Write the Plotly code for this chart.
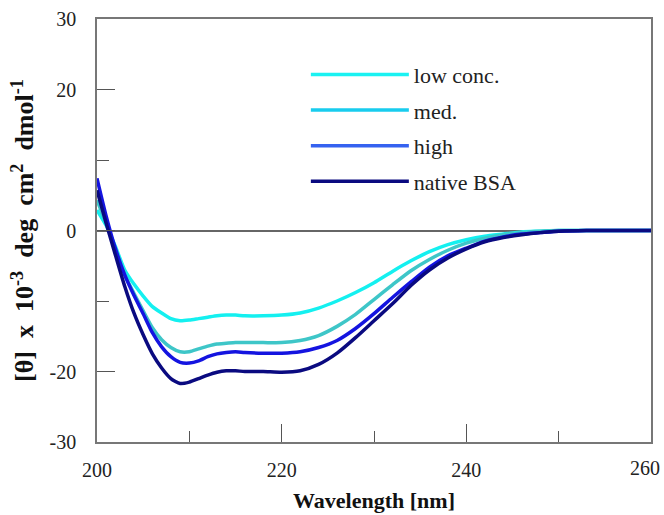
import plotly.graph_objects as go

wavelength = [200, 201, 202, 203, 204, 205, 206, 207, 208, 209, 210, 211, 212, 213, 214, 215, 216,
              218, 220, 222, 224, 226, 228, 230, 232, 234, 236, 238, 240, 242, 244, 246, 248, 250,
              253, 256, 260]

low_conc = [2.9, 0.7, -2.3, -5.6, -7.6, -9.3, -10.8, -11.7, -12.5, -12.8, -12.7, -12.5, -12.3, -12.1,
            -12.0, -12.0, -12.1, -12.1, -12.0, -11.7, -11.0, -10.0, -8.8, -7.4, -5.8, -4.3, -3.0, -2.0,
            -1.3, -0.8, -0.5, -0.2, -0.1, 0.0, 0.0, 0.0, 0.0]

med = [4.3, 1.0, -2.6, -6.3, -8.9, -11.4, -13.8, -15.5, -16.6, -17.2, -17.2, -16.8, -16.4, -16.1,
       -16.0, -15.9, -15.9, -15.9, -15.9, -15.6, -14.9, -13.6, -11.9, -9.8, -7.7, -5.7, -4.1, -2.8,
       -1.8, -1.1, -0.6, -0.3, -0.1, 0.0, 0.0, 0.0, 0.0]

high = [7.4, 2.0, -2.6, -6.3, -9.2, -11.8, -14.5, -16.5, -17.9, -18.7, -18.8, -18.5, -17.9, -17.5,
        -17.3, -17.2, -17.3, -17.4, -17.4, -17.2, -16.6, -15.6, -13.9, -11.8, -9.5, -7.3, -5.2, -3.6,
        -2.5, -1.5, -0.9, -0.5, -0.3, -0.1, 0.0, 0.0, 0.0]

native_bsa = [5.7, 1.0, -3.5, -7.9, -11.7, -14.8, -17.5, -19.5, -21.0, -21.7, -21.5, -21.0, -20.5,
              -20.1, -19.9, -19.9, -20.0, -20.0, -20.1, -19.9, -19.0, -17.4, -15.2, -12.8, -10.4, -7.8,
              -5.6, -3.9, -2.6, -1.6, -1.0, -0.6, -0.3, -0.1, 0.0, 0.0, 0.0]

series_names = ["low conc.", "med.", "high", "native BSA"]
series_values = [low_conc, med, high, native_bsa]
curve_colors = ["#14F0F0", "#3EC6C8", "#1414E0", "#0A0A80"]
legend_colors = ["#1AF2F2", "#18CCEE", "#3562F0", "#0A0A80"]

x_tickvals = [200, 220, 240, 260]
x_ticklabels = ["200", "220", "240", "260"]
x_minor = [210, 230, 250]
y_tickvals = [-30, -20, 0, 20, 30]
y_minor = [-10, 10]

font_family = "Liberation Serif"
sp = "&nbsp;&nbsp;"

fig = go.Figure()
for name, vals, c in zip(series_names, series_values, curve_colors):
    fig.add_trace(go.Scatter(x=wavelength, y=vals, mode="lines", name=name,
                             line=dict(color=c, width=3.5, shape="spline", smoothing=0.6),
                             showlegend=False))
for i, (name, c) in enumerate(zip(series_names, legend_colors)):
    fig.add_trace(go.Scatter(x=[None], y=[None], mode="lines", name=name,
                             line=dict(color=c, width=3.5), legendgroup=f"g{i}",
                             showlegend=True))

# last tick label is kept inside the page (right-aligned near the axis end)
axis_ticktext = x_ticklabels[:-1] + [""]
fig.add_annotation(x=x_tickvals[-1], xref="x", y=0, yref="paper", text=x_ticklabels[-1],
                   showarrow=False, xanchor="right", yanchor="top", xshift=11, yshift=-13,
                   font=dict(size=20, family=font_family, color="#222222"))

fig.update_layout(
    width=664, height=515,
    margin=dict(l=97, r=13, t=19, b=73, autoexpand=False),
    paper_bgcolor="white", plot_bgcolor="white",
    font=dict(family=font_family, color="#222222", size=20),
    legend=dict(x=0.377, y=0.918, xanchor="left", yanchor="top",
                bgcolor="rgba(0,0,0,0)", font=dict(size=22, family=font_family, color="#222222"),
                itemwidth=98, tracegroupgap=4),
    showlegend=True,
)

fig.update_xaxes(
    range=[200, 260], showgrid=False, zeroline=False, automargin=False,
    showline=True, linecolor="#777777", linewidth=1.5, mirror=True,
    tickmode="array", tickvals=x_tickvals, ticktext=axis_ticktext,
    ticks="inside", ticklen=18, tickwidth=1.2, tickcolor="#555555",
    minor=dict(tickvals=x_minor, ticks="inside", ticklen=11, tickwidth=1.2, tickcolor="#555555"),
    ticklabelstandoff=9, ticklabeloverflow="allow",
    tickfont=dict(size=20, family=font_family, color="#222222"),
    title=dict(text="<b>Wavelength [nm]</b>", font=dict(size=22, family=font_family, color="#111111"),
               standoff=13),
)

ytitle = ("<b>[θ]" + sp + "x" + sp + "10<sup>-3</sup>" + sp + "deg" + sp + "cm<sup>2</sup>"
          + sp + "dmol<sup>-1</sup></b>")

fig.update_yaxes(
    range=[-30, 30], showgrid=False, automargin=False,
    zeroline=True, zerolinecolor="#666666", zerolinewidth=1.5,
    showline=True, linecolor="#777777", linewidth=1.5, mirror=True,
    tickmode="array", tickvals=y_tickvals, ticktext=[str(v) for v in y_tickvals],
    ticks="inside", ticklen=18, tickwidth=1.2, tickcolor="#555555",
    minor=dict(tickvals=y_minor, ticks="inside", ticklen=12, tickwidth=1.2, tickcolor="#555555"),
    ticklabelstandoff=15, ticklabeloverflow="allow",
    tickfont=dict(size=20, family=font_family, color="#222222"),
    title=dict(text=ytitle, font=dict(size=26, family=font_family, color="#111111"), standoff=8),
)

fig.write_html("out.html")
